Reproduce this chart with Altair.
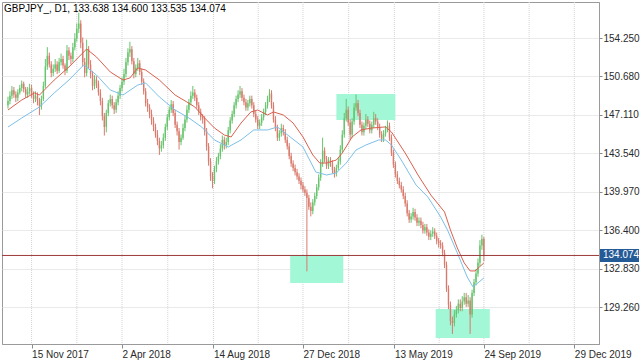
import altair as alt
import pandas as pd

# ---------------- data ----------------
closes = [
    148.4, 148.9, 149.4, 149.0, 148.7, 149.2, 149.6, 150.0, 149.5, 149.0,
    149.3, 149.6, 149.0, 148.6, 148.9, 148.4, 147.9, 148.6, 149.8, 151.6,
    152.6, 151.8, 151.0, 151.4, 151.8, 151.2, 152.0, 152.3, 151.7, 151.2,
    153.1, 152.6, 152.3, 153.4, 154.2, 155.1, 155.6, 153.8, 152.0, 151.0,
    153.2, 151.8, 150.9, 149.8, 150.4, 150.0, 149.2, 148.4, 147.0, 146.0,
    147.3, 148.2, 148.6, 148.0, 147.6, 148.3, 148.9, 149.6, 150.2, 150.9,
    152.0, 152.9, 153.2, 152.1, 150.9, 151.5, 151.9, 151.1, 150.2, 149.3,
    148.2, 147.8, 147.2, 146.6, 146.0, 145.3, 144.7, 144.0, 144.3, 145.0,
    146.0, 146.9, 147.6, 148.1, 147.3, 146.2, 145.6, 144.6, 145.0, 145.9,
    146.7, 147.6, 148.3, 148.9, 149.2, 148.7, 148.0, 147.4, 146.9, 146.7,
    145.6, 144.2, 142.8, 141.4, 141.0, 142.1, 142.8, 143.3, 144.0, 144.8,
    144.3, 144.6, 145.7, 146.6, 147.2, 148.0, 148.6, 149.0, 149.3, 148.7,
    148.3, 147.8, 148.2, 148.6, 148.0, 147.2, 146.7, 146.1, 146.4, 146.9,
    147.4, 148.0, 148.6, 149.1, 148.0, 146.7, 145.9, 145.0, 145.4, 145.9,
    145.5, 144.8, 144.2, 143.3, 142.6, 142.2, 141.8, 141.4, 141.0, 140.6,
    140.2, 139.9, 139.4, 138.6, 138.2, 139.0, 139.6, 140.4, 141.3, 142.6,
    143.8, 143.0, 142.4, 142.9, 142.6, 142.0, 141.7, 142.2, 142.8, 143.9,
    145.3, 146.8, 147.6, 146.4, 145.3, 146.5, 147.8, 148.2, 147.3, 146.2,
    145.5, 146.1, 146.7, 146.3, 145.7, 146.2, 146.8, 146.5, 146.0, 145.3,
    144.9, 145.4, 145.8, 146.1, 145.0, 143.6, 142.5, 141.6, 141.0, 140.6,
    140.2, 139.6, 138.9, 138.0, 137.4, 137.7, 138.1, 137.6, 137.1, 137.3,
    136.9, 136.4, 136.7, 136.2, 135.8, 136.1, 136.3, 135.9, 135.4, 135.2,
    135.0, 134.3, 133.2, 131.0, 129.5, 128.0, 127.8, 128.6, 129.0, 129.6,
    129.2, 129.8, 130.2, 129.6, 129.9, 128.6, 130.6, 131.6, 132.4, 133.4,
    135.0, 135.6, 134.074,
]
highs = [
    148.8, 149.3, 149.8, 149.7, 149.3, 149.5, 149.9, 150.3, 150.2, 149.7,
    149.7, 150.0, 149.9, 149.3, 149.3, 149.2, 148.7, 148.9, 150.2, 152.3,
    153.4, 152.9, 152.1, 151.8, 152.3, 152.1, 152.4, 152.8, 152.6, 151.9,
    153.6, 153.4, 152.9, 153.8, 154.7, 155.6, 156.6, 155.9, 154.3, 152.4,
    154.1, 153.5, 152.2, 151.2, 150.8, 150.7, 150.3, 149.5, 148.7, 147.3,
    147.6, 148.5, 149.0, 148.9, 148.3, 148.6, 149.3, 149.9, 150.6, 151.4,
    152.4, 153.3, 153.9, 153.5, 152.4, 151.8, 152.4, 152.2, 151.4, 150.5,
    149.6, 148.6, 148.1, 147.6, 146.9, 146.3, 145.7, 145.0, 144.7, 145.4,
    146.3, 147.2, 147.9, 148.5, 148.4, 147.6, 146.5, 145.9, 145.3, 146.3,
    147.1, 148.0, 148.6, 149.3, 149.8, 149.5, 149.0, 148.3, 147.7, 147.2,
    147.0, 145.9, 144.5, 143.1, 141.8, 142.4, 143.2, 143.6, 144.4, 145.2,
    145.1, 145.0, 146.0, 146.9, 147.5, 148.3, 148.9, 149.4, 149.8, 149.6,
    149.0, 148.6, 148.5, 148.9, 148.9, 148.3, 147.5, 147.0, 146.7, 147.2,
    147.7, 148.3, 148.9, 149.5, 149.4, 148.3, 147.0, 146.2, 145.7, 146.3,
    146.2, 145.8, 145.1, 144.5, 143.6, 142.9, 142.5, 142.1, 141.7, 141.3,
    140.9, 140.5, 140.2, 139.7, 139.0, 139.3, 139.9, 140.7, 141.6, 143.0,
    145.0, 144.1, 143.3, 143.2, 143.2, 142.9, 142.3, 142.5, 143.1, 144.3,
    145.7, 147.3, 148.6, 147.9, 146.7, 146.8, 148.2, 149.0, 148.5, 147.6,
    146.5, 146.4, 147.2, 147.0, 146.6, 146.5, 147.4, 147.2, 146.8, 146.3,
    145.6, 145.7, 146.1, 146.6, 146.4, 145.3, 143.9, 142.8, 141.9, 141.3,
    140.9, 140.5, 139.9, 139.2, 138.3, 138.0, 138.5, 138.4, 137.9, 137.6,
    137.6, 137.2, 137.0, 137.0, 136.5, 136.4, 136.7, 136.6, 136.2, 135.7,
    135.5, 135.3, 134.6, 133.5, 131.3, 129.8, 128.4, 129.0, 129.4, 130.0,
    130.0, 130.3, 130.6, 130.6, 130.4, 130.2, 130.9, 131.9, 132.8, 133.8,
    135.5, 136.0, 135.8,
]
lows = [
    147.7, 148.1, 148.6, 148.7, 148.3, 148.4, 149.0, 149.3, 149.2, 148.7,
    148.7, 149.0, 148.7, 148.2, 148.3, 148.0, 147.1, 147.6, 148.4, 149.6,
    151.3, 151.5, 150.6, 150.7, 151.1, 150.9, 151.0, 151.7, 151.4, 150.8,
    151.0, 152.2, 151.8, 152.0, 153.1, 153.9, 154.7, 153.3, 151.6, 150.6,
    150.7, 151.4, 150.5, 149.4, 149.5, 149.6, 148.9, 148.0, 146.6, 145.2,
    145.5, 147.0, 147.9, 147.7, 147.2, 147.3, 148.0, 148.6, 149.3, 149.9,
    150.6, 151.7, 152.5, 151.8, 150.5, 150.6, 151.2, 150.8, 149.9, 149.0,
    147.9, 147.4, 146.8, 146.2, 145.6, 145.0, 144.3, 143.4, 143.7, 144.0,
    144.7, 145.7, 146.6, 147.3, 147.0, 145.9, 145.2, 143.9, 144.3, 144.8,
    145.6, 146.4, 147.3, 148.0, 148.6, 148.4, 147.7, 147.1, 146.6, 146.3,
    145.2, 143.8, 142.4, 141.0, 140.3, 140.7, 141.8, 142.5, 143.0, 143.7,
    143.9, 144.0, 144.3, 145.4, 146.3, 146.9, 147.7, 148.3, 148.7, 148.4,
    148.0, 147.5, 147.5, 147.9, 147.7, 146.9, 146.4, 145.8, 145.8, 146.1,
    146.6, 147.1, 147.7, 148.3, 147.7, 146.4, 145.6, 144.7, 144.7, 145.1,
    145.2, 144.5, 143.9, 143.0, 142.3, 141.9, 141.5, 141.1, 140.7, 140.2,
    139.9, 139.6, 132.6, 138.3, 137.7, 137.9, 138.7, 139.3, 140.1, 141.0,
    142.3, 142.7, 142.1, 142.1, 142.3, 141.7, 141.3, 141.4, 142.0, 142.5,
    143.6, 145.0, 146.5, 146.1, 144.8, 145.0, 146.2, 147.5, 147.0, 145.9,
    145.2, 145.2, 145.8, 146.0, 145.4, 145.4, 145.9, 146.2, 145.7, 145.0,
    144.6, 144.6, 145.1, 145.5, 144.7, 143.3, 142.2, 141.3, 140.7, 140.3,
    139.9, 139.3, 138.6, 137.7, 137.1, 137.1, 137.4, 137.3, 136.8, 136.8,
    136.6, 136.1, 136.1, 135.9, 135.5, 135.5, 135.8, 135.6, 135.1, 134.8,
    134.7, 134.0, 132.9, 130.7, 129.1, 127.6, 126.8, 127.5, 128.3, 128.7,
    128.9, 128.9, 129.5, 129.3, 129.3, 126.8, 128.3, 130.3, 131.3, 132.1,
    133.1, 134.6, 133.535,
]
first_open = 148.0

# moving-average style lines (bar position, price)
red_t = [1, 15, 28, 33, 48, 63, 73, 81, 91, 105, 118, 125, 133, 141, 155, 171, 183, 191, 201, 211,
         221, 228, 238, 248, 255, 265, 271, 281, 291, 301, 311, 318, 325, 335, 341, 351, 360, 371,
         385, 391, 405, 418, 431, 445, 451, 458, 465, 471, 476, 485]
red_p = [147.57, 148.50, 149.15, 148.96, 150.35, 151.56, 152.49, 153.23, 152.49, 151.10, 150.35,
         150.54, 151.47, 151.28, 150.35, 148.96, 148.31, 147.85, 146.83, 145.90, 145.25, 145.07,
         146.36, 147.39, 147.57, 147.11, 147.39, 147.11, 146.36, 145.07, 143.40, 142.65, 142.65,
         142.93, 143.58, 145.07, 145.72, 145.90, 146.00, 145.53, 143.58, 141.54, 139.69, 138.11,
         136.44, 134.77, 133.38, 132.64, 132.64, 133.38]
blue_t = [1, 15, 33, 48, 63, 78, 91, 105, 118, 133, 141, 155, 171, 185, 198, 211, 225, 238, 251, 265,
          275, 288, 301, 314, 325, 335, 345, 355, 365, 378, 385, 391, 401, 416, 428, 441, 448, 458,
          468, 474, 485]
blue_p = [145.99, 146.83, 147.85, 149.15, 150.35, 151.75, 150.82, 149.43, 148.96, 149.89, 150.08,
          148.78, 147.57, 146.83, 145.99, 144.79, 144.14, 144.79, 145.72, 145.72, 145.99, 145.07,
          144.14, 141.82, 141.54, 141.73, 142.65, 143.86, 144.32, 144.79, 144.79, 144.32, 142.93,
          140.61, 139.50, 137.65, 136.44, 134.31, 132.08, 131.15, 131.99]

# highlighted zones
box_t1 = [288, 335, 436]
box_t2 = [342, 395, 491]
box_top = [134.12, 149.06, 129.11]
box_bottom = [131.52, 146.64, 126.42]

y_ticks = [129.26, 132.83, 136.40, 139.97, 143.54, 147.11, 150.68, 154.25]
x_tick_pos = [25, 117, 210, 301, 394, 485, 577]
x_tick_labels = ["15 Nov 2017", "2 Apr 2018", "14 Aug 2018", "27 Dec 2018",
                 "13 May 2019", "24 Sep 2019", "29 Dec 2019"]
last_price = 134.074
header = "GBPJPY_, D1, 133.638 134.600 133.535 134.074"

# ---------------- frames ----------------
t = [1 + 2 * i for i in range(len(closes))]
opens = [first_open] + closes[:-1]
df = pd.DataFrame({"t": t, "open": opens, "high": highs, "low": lows, "close": closes})
df["dir"] = ["up" if c >= o else "down" for o, c in zip(df["open"], df["close"])]

red_df = pd.DataFrame({"t": red_t, "p": red_p})
blue_df = pd.DataFrame({"t": blue_t, "p": blue_p})
box_df = pd.DataFrame({"t1": box_t1, "t2": box_t2, "top": box_top, "bottom": box_bottom})
mids = [(a + b) / 2 for a, b in zip(x_tick_pos[:-1], x_tick_pos[1:])]
gridx_df = pd.DataFrame({"t": sorted(x_tick_pos + mids)})
price_df = pd.DataFrame({"p": [last_price]})
head_df = pd.DataFrame({"s": [header]})

FONT = "Liberation Sans"
X = alt.Scale(domain=[0, 597], nice=False, zero=False)
Y = alt.Scale(domain=[125.86, 157.59], nice=False, zero=False)

label_expr = "{}[indexof({}, datum.value)]".format(
    "[" + ",".join("'%s'" % s for s in x_tick_labels) + "]",
    "[" + ",".join(str(v) for v in x_tick_pos) + "]",
)
XA = alt.Axis(values=x_tick_pos, labelExpr=label_expr, grid=False, title=None,
              labelAlign="left", labelPadding=1, labelFlush=False, labelOverlap=False,
              tickSize=4, tickColor="#8a8a8a", domainColor="#9a9a9a",
              labelFontSize=10, labelFont=FONT, labelColor="#2a2a2a")
YA = alt.Axis(orient="right", values=y_ticks, format=".3f", title=None,
              grid=True, gridColor="#d4d4d4", gridDash=[1, 1],
              tickSize=3, tickColor="#8a8a8a", domainColor="#9a9a9a",
              labelPadding=1, labelOverlap=False, labelFlush=False,
              labelFontSize=10, labelFont=FONT, labelColor="#2a2a2a")


def xq(field):
    return alt.X(field, type="quantitative", scale=X, axis=XA)


def yq(field):
    return alt.Y(field, type="quantitative", scale=Y, axis=YA)


candle_color = alt.Color("dir:N", scale=alt.Scale(domain=["up", "down"],
                                                   range=["#66c46c", "#d97a6c"]), legend=None)

grid_v = alt.Chart(gridx_df).mark_rule(color="#d4d4d4", strokeDash=[1, 1], strokeWidth=1).encode(
    x=xq("t"))

boxes = alt.Chart(box_df).mark_rect(color="#a2f7d6", opacity=1).encode(
    x=xq("t1"), x2="t2", y=yq("top"), y2="bottom")

wicks = alt.Chart(df).mark_rule(strokeWidth=1).encode(
    x=xq("t"), y=yq("low"), y2="high", color=candle_color)

bodies = alt.Chart(df).mark_bar(width=1.4).encode(
    x=xq("t"), y=yq("open"), y2="close", color=candle_color)

red_line = alt.Chart(red_df).mark_line(color="#d9604f", strokeWidth=1).encode(
    x=xq("t"), y=yq("p"))
blue_line = alt.Chart(blue_df).mark_line(color="#7cc0e8", strokeWidth=1).encode(
    x=xq("t"), y=yq("p"))

price_line = alt.Chart(price_df).mark_rule(color="#9c3a3a", strokeWidth=1).encode(
    y=yq("p"))
price_box = alt.Chart(price_df).mark_rect(color="#245a96", yOffset=-6.5, y2Offset=6.5).encode(
    x=alt.value(598), x2=alt.value(637), y=yq("p"), y2="p")
price_text = alt.Chart(price_df).mark_text(align="left", baseline="middle", color="white",
                                            fontSize=10, font=FONT).encode(
    x=alt.value(601), y=yq("p"), text=alt.Text("p:Q", format=".3f"))

head = alt.Chart(head_df).mark_text(align="left", baseline="top", fontSize=10, font=FONT,
                                     color="#000000").encode(
    x=alt.value(2), y=alt.value(2), text="s:N")

chart = alt.layer(
    grid_v, boxes, wicks, bodies, red_line, blue_line, price_line, price_box, price_text, head
).properties(
    width=597, height=342, autosize="none",
    padding={"left": 2, "top": 2, "right": 41, "bottom": 16},
    background="white",
).configure_view(stroke="#9a9a9a", strokeWidth=1)

chart.save("out.html", embed_options={"renderer": "svg", "actions": False})
